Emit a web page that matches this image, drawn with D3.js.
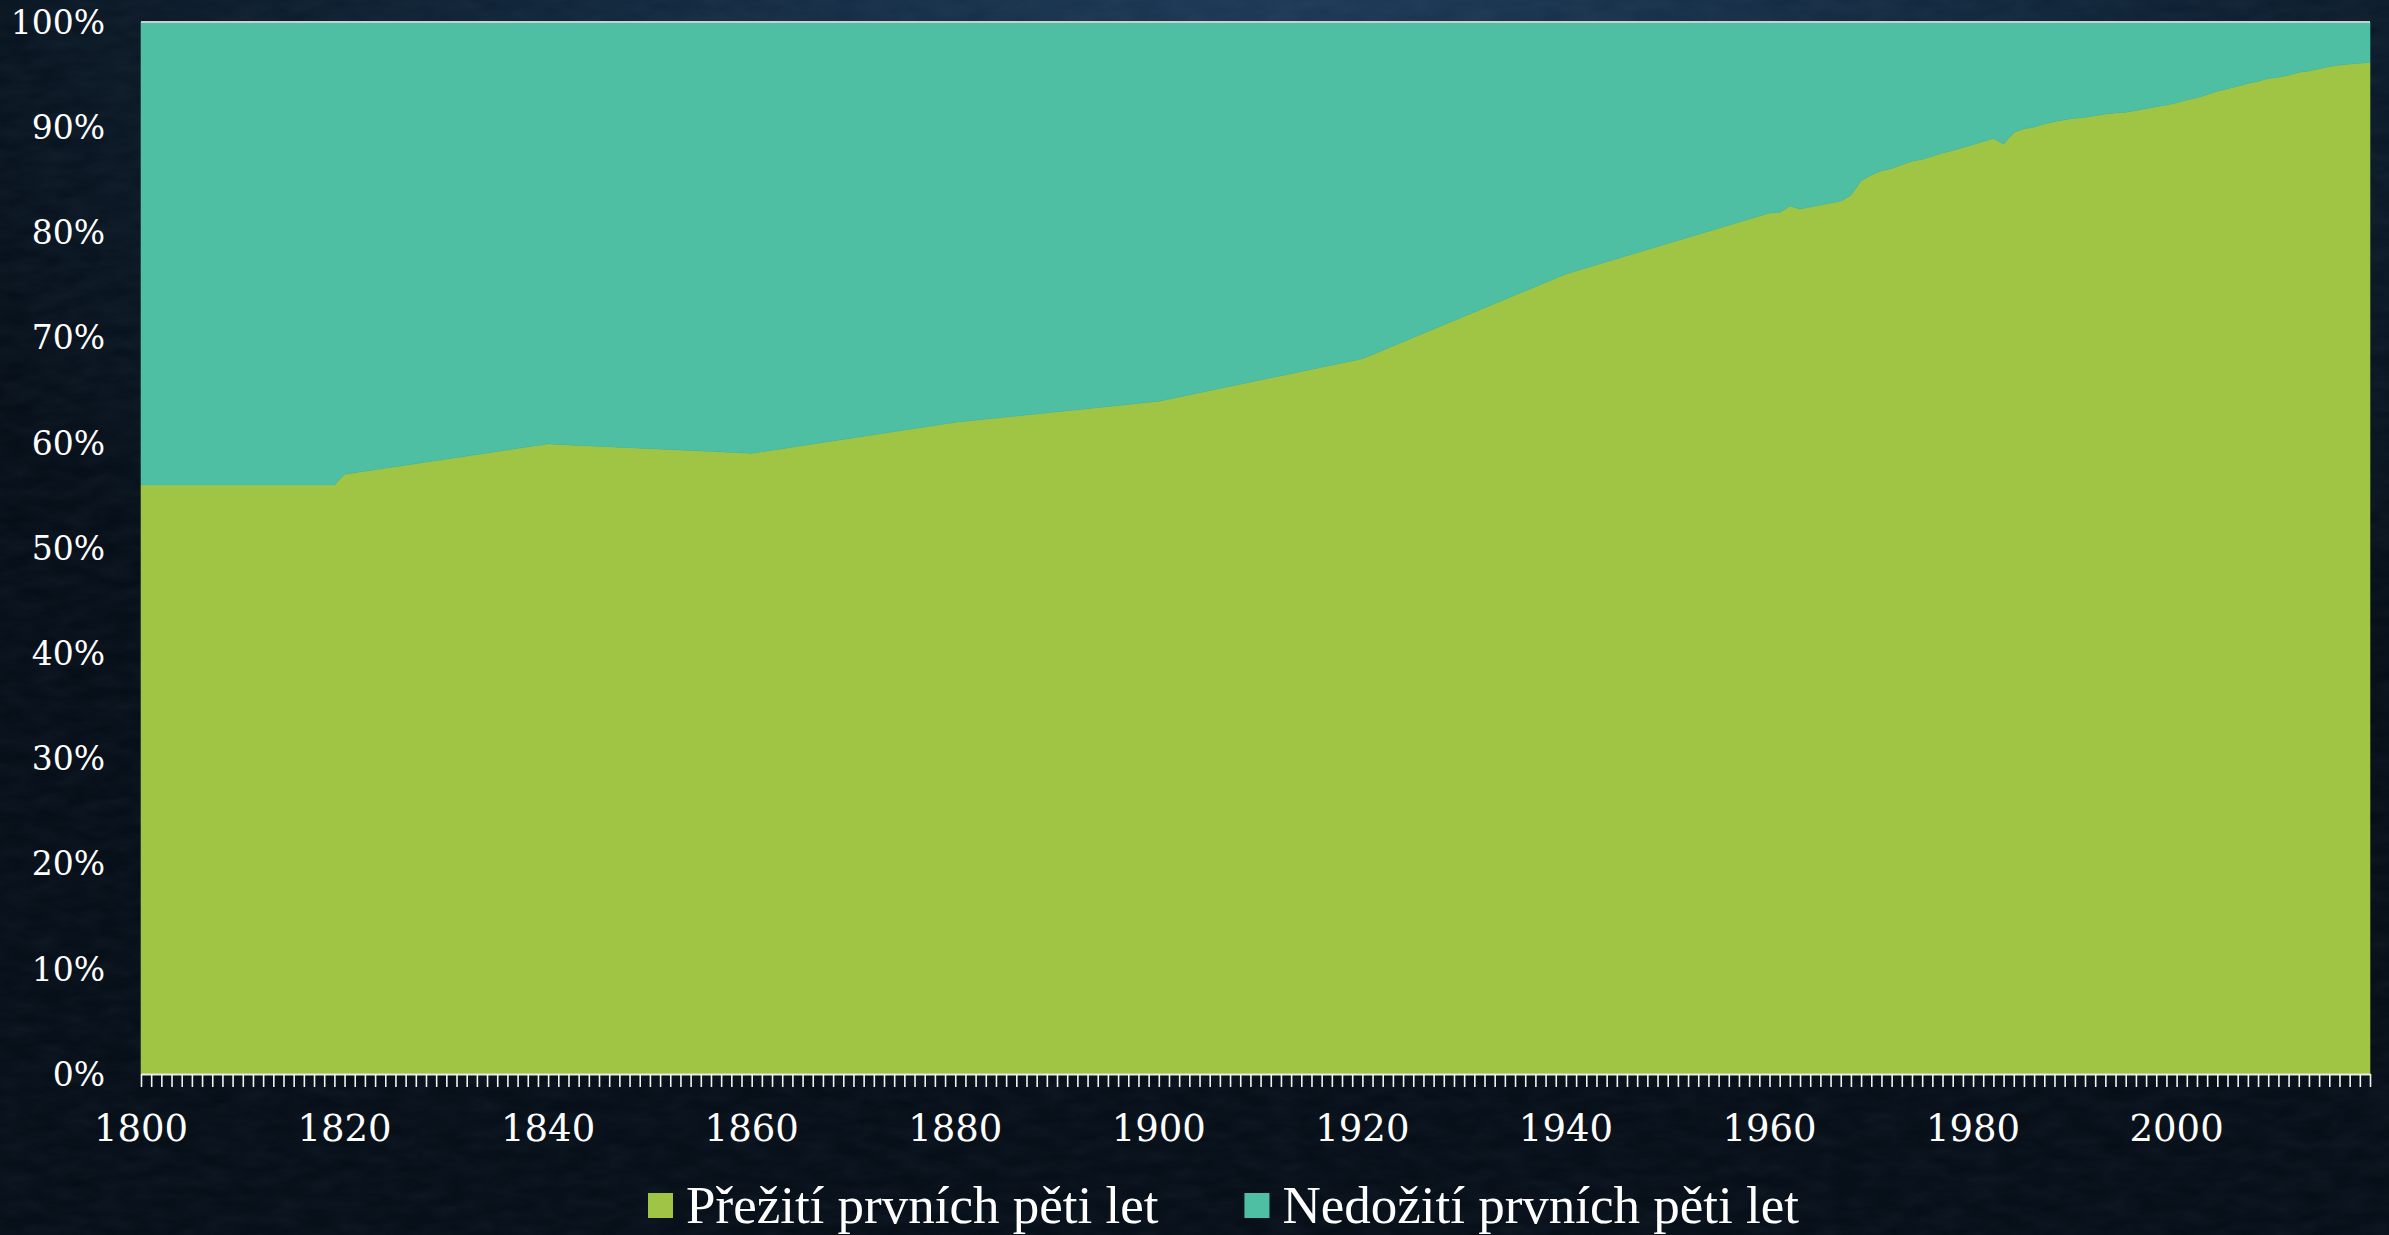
<!DOCTYPE html>
<html>
<head>
<meta charset="utf-8">
<script src="https://cdn.jsdelivr.net/npm/d3@7/dist/d3.min.js"></script>
<style>
body { margin: 0; background: #0a1726; }
svg { display: block; }
</style>
</head>
<body>
<div id="chart"></div>
<script>
// years where the outline changes (straight runs in between)
var years = [1800, 1819, 1820, 1840, 1841, 1860, 1880, 1900, 1920, 1940, 1960, 1961, 1962, 1963,
    1967, 1968, 1969, 1970, 1971, 1972, 1973, 1974, 1975, 1976, 1977, 1978, 1979, 1980,
    1981, 1982, 1983, 1984, 1985, 1986, 1987, 1988, 1989, 1990, 1991, 1992, 1993, 1994,
    1995, 1996, 1997, 1998, 1999, 2000, 2001, 2002, 2003, 2004, 2005, 2006, 2007, 2008,
    2009, 2010, 2011, 2012, 2013, 2014, 2015, 2016, 2017, 2018, 2019];

// % surviving the first five years
var survived = [56.0, 56.0, 57.0, 59.9, 59.85, 59.0, 61.95, 63.95, 68.0, 76.05, 81.85, 81.9, 82.5, 82.22,
    82.98, 83.52, 84.9, 85.46, 85.87, 86.07, 86.44, 86.76, 86.95, 87.23, 87.55, 87.79, 88.07, 88.35,
    88.64, 88.92, 88.4, 89.5, 89.86, 90.02, 90.3, 90.53, 90.72, 90.84, 90.94, 91.1, 91.25, 91.35,
    91.42, 91.58, 91.77, 91.95, 92.11, 92.33, 92.59, 92.81, 93.1, 93.42, 93.66, 93.9, 94.15, 94.37,
    94.62, 94.75, 94.94, 95.22, 95.34, 95.56, 95.75, 95.91, 96.0, 96.07, 96.17];

// % not surviving the first five years
var died = [44.0, 44.0, 43.0, 40.1, 40.15, 41.0, 38.05, 36.05, 32.0, 23.95, 18.15, 18.1, 17.5, 17.78,
    17.02, 16.48, 15.1, 14.54, 14.13, 13.93, 13.56, 13.24, 13.05, 12.77, 12.45, 12.21, 11.93, 11.65,
    11.36, 11.08, 11.6, 10.5, 10.14, 9.98, 9.7, 9.47, 9.28, 9.16, 9.06, 8.9, 8.75, 8.65,
    8.58, 8.42, 8.23, 8.05, 7.89, 7.67, 7.41, 7.19, 6.9, 6.58, 6.34, 6.1, 5.85, 5.63,
    5.38, 5.25, 5.06, 4.78, 4.66, 4.44, 4.25, 4.09, 4.0, 3.93, 3.83];

var seriesNames = ["Přežití prvních pěti let", "Nedožití prvních pěti let"];
var seriesColors = ["#a0c545", "#4fbfa3"];
var yTicks = [0, 0.1, 0.2, 0.3, 0.4, 0.5, 0.6, 0.7, 0.8, 0.9, 1];
var xLabels = [1800, 1820, 1840, 1860, 1880, 1900, 1920, 1940, 1960, 1980, 2000];

(function() {
    const width = 2389, height = 1235;
    const plotLeft = 141, plotRight = 2370, plotTop = 22, plotBottom = 1074;

    const svg = d3.select("#chart").append("svg")
        .attr("width", width)
        .attr("height", height);

    // background: dark blue, lighter near the top middle, with a faint grain
    const defs = svg.append("defs");
    const grad = defs.append("radialGradient")
        .attr("id", "bg")
        .attr("gradientUnits", "userSpaceOnUse")
        .attr("cx", 1300).attr("cy", -150).attr("r", 1500)
        .attr("gradientTransform", "translate(1300,-150) scale(1,0.75) translate(-1300,150)");
    grad.append("stop").attr("offset", "0%").attr("stop-color", "#1e3c5b");
    grad.append("stop").attr("offset", "45%").attr("stop-color", "#10263c");
    grad.append("stop").attr("offset", "100%").attr("stop-color", "#040c15");

    const noise = defs.append("filter").attr("id", "grain")
        .attr("x", 0).attr("y", 0).attr("width", "100%").attr("height", "100%");
    noise.append("feTurbulence")
        .attr("type", "fractalNoise")
        .attr("baseFrequency", "0.03 0.08")
        .attr("numOctaves", 3)
        .attr("seed", 5);
    noise.append("feColorMatrix")
        .attr("values", "0 0 0 0 0.3  0 0 0 0 0.45  0 0 0 0 0.6  0 0 0 0.18 0");

    svg.append("rect").attr("width", width).attr("height", height).attr("fill", "url(#bg)");
    svg.append("rect").attr("width", width).attr("height", height)
        .attr("filter", "url(#grain)").attr("opacity", 0.45);

    const x = d3.scaleLinear().domain([1800, 2019]).range([plotLeft, plotRight]);
    const y = d3.scaleLinear().domain([0, 1]).range([plotBottom, plotTop]);

    const rows = years.map(function(yr, i) {
        return { year: yr, survived: survived[i], died: died[i] };
    });
    const stacked = d3.stack()
        .keys(["survived", "died"])
        .offset(d3.stackOffsetExpand)(rows);

    const area = d3.area()
        .x(function(d) { return x(d.data.year); })
        .y0(function(d) { return y(d[0]); })
        .y1(function(d) { return y(d[1]); });

    svg.append("g").selectAll("path")
        .data(stacked)
        .join("path")
        .attr("d", area)
        .attr("fill", function(d, i) { return seriesColors[i]; })
        .attr("stroke", function(d, i) { return seriesColors[i]; })
        .attr("stroke-width", 0.6);

    // thin line along the top of the plot
    svg.append("line")
        .attr("x1", plotLeft).attr("x2", plotRight)
        .attr("y1", plotTop).attr("y2", plotTop)
        .attr("stroke", "#c6d2d0").attr("stroke-width", 2);

    // x axis: a tick for every year, a label every 20 years
    const xAxis = svg.append("g")
        .attr("transform", "translate(0," + plotBottom + ")")
        .call(d3.axisBottom(x).tickValues(d3.range(1800, 2020)).tickSize(13).tickSizeOuter(0).tickFormat(""));
    xAxis.select(".domain").attr("stroke", "#e8ecea").attr("stroke-width", 2);
    xAxis.selectAll(".tick line").attr("stroke", "#f2f4f2").attr("stroke-width", 1.6);

    svg.append("g").selectAll("text")
        .data(xLabels)
        .join("text")
        .attr("x", function(d) { return x(d); })
        .attr("y", 1141)
        .attr("text-anchor", "middle")
        .attr("font-family", "DejaVu Serif")
        .attr("font-size", 37)
        .attr("fill", "#ffffff")
        .text(function(d) { return d; });

    svg.append("g").selectAll("text")
        .data(yTicks)
        .join("text")
        .attr("x", 105)
        .attr("y", function(d) { return y(d); })
        .attr("dy", "0.36em")
        .attr("text-anchor", "end")
        .attr("font-family", "DejaVu Serif")
        .attr("font-size", 33)
        .attr("fill", "#ffffff")
        .text(function(d) { return d3.format(".0%")(d); });

    // legend
    const legend = svg.append("g");
    let lx = 648;
    seriesNames.forEach(function(name, i) {
        legend.append("rect")
            .attr("x", lx).attr("y", 1193)
            .attr("width", 25).attr("height", 25)
            .attr("fill", seriesColors[i]);
        const t = legend.append("text")
            .attr("x", lx + 38).attr("y", 1223)
            .attr("font-family", "Liberation Serif")
            .attr("font-size", 53)
            .attr("fill", "#ffffff")
            .text(name);
        lx += 38 + t.node().getComputedTextLength() + 86;
    });
})();
</script>
</body>
</html>
